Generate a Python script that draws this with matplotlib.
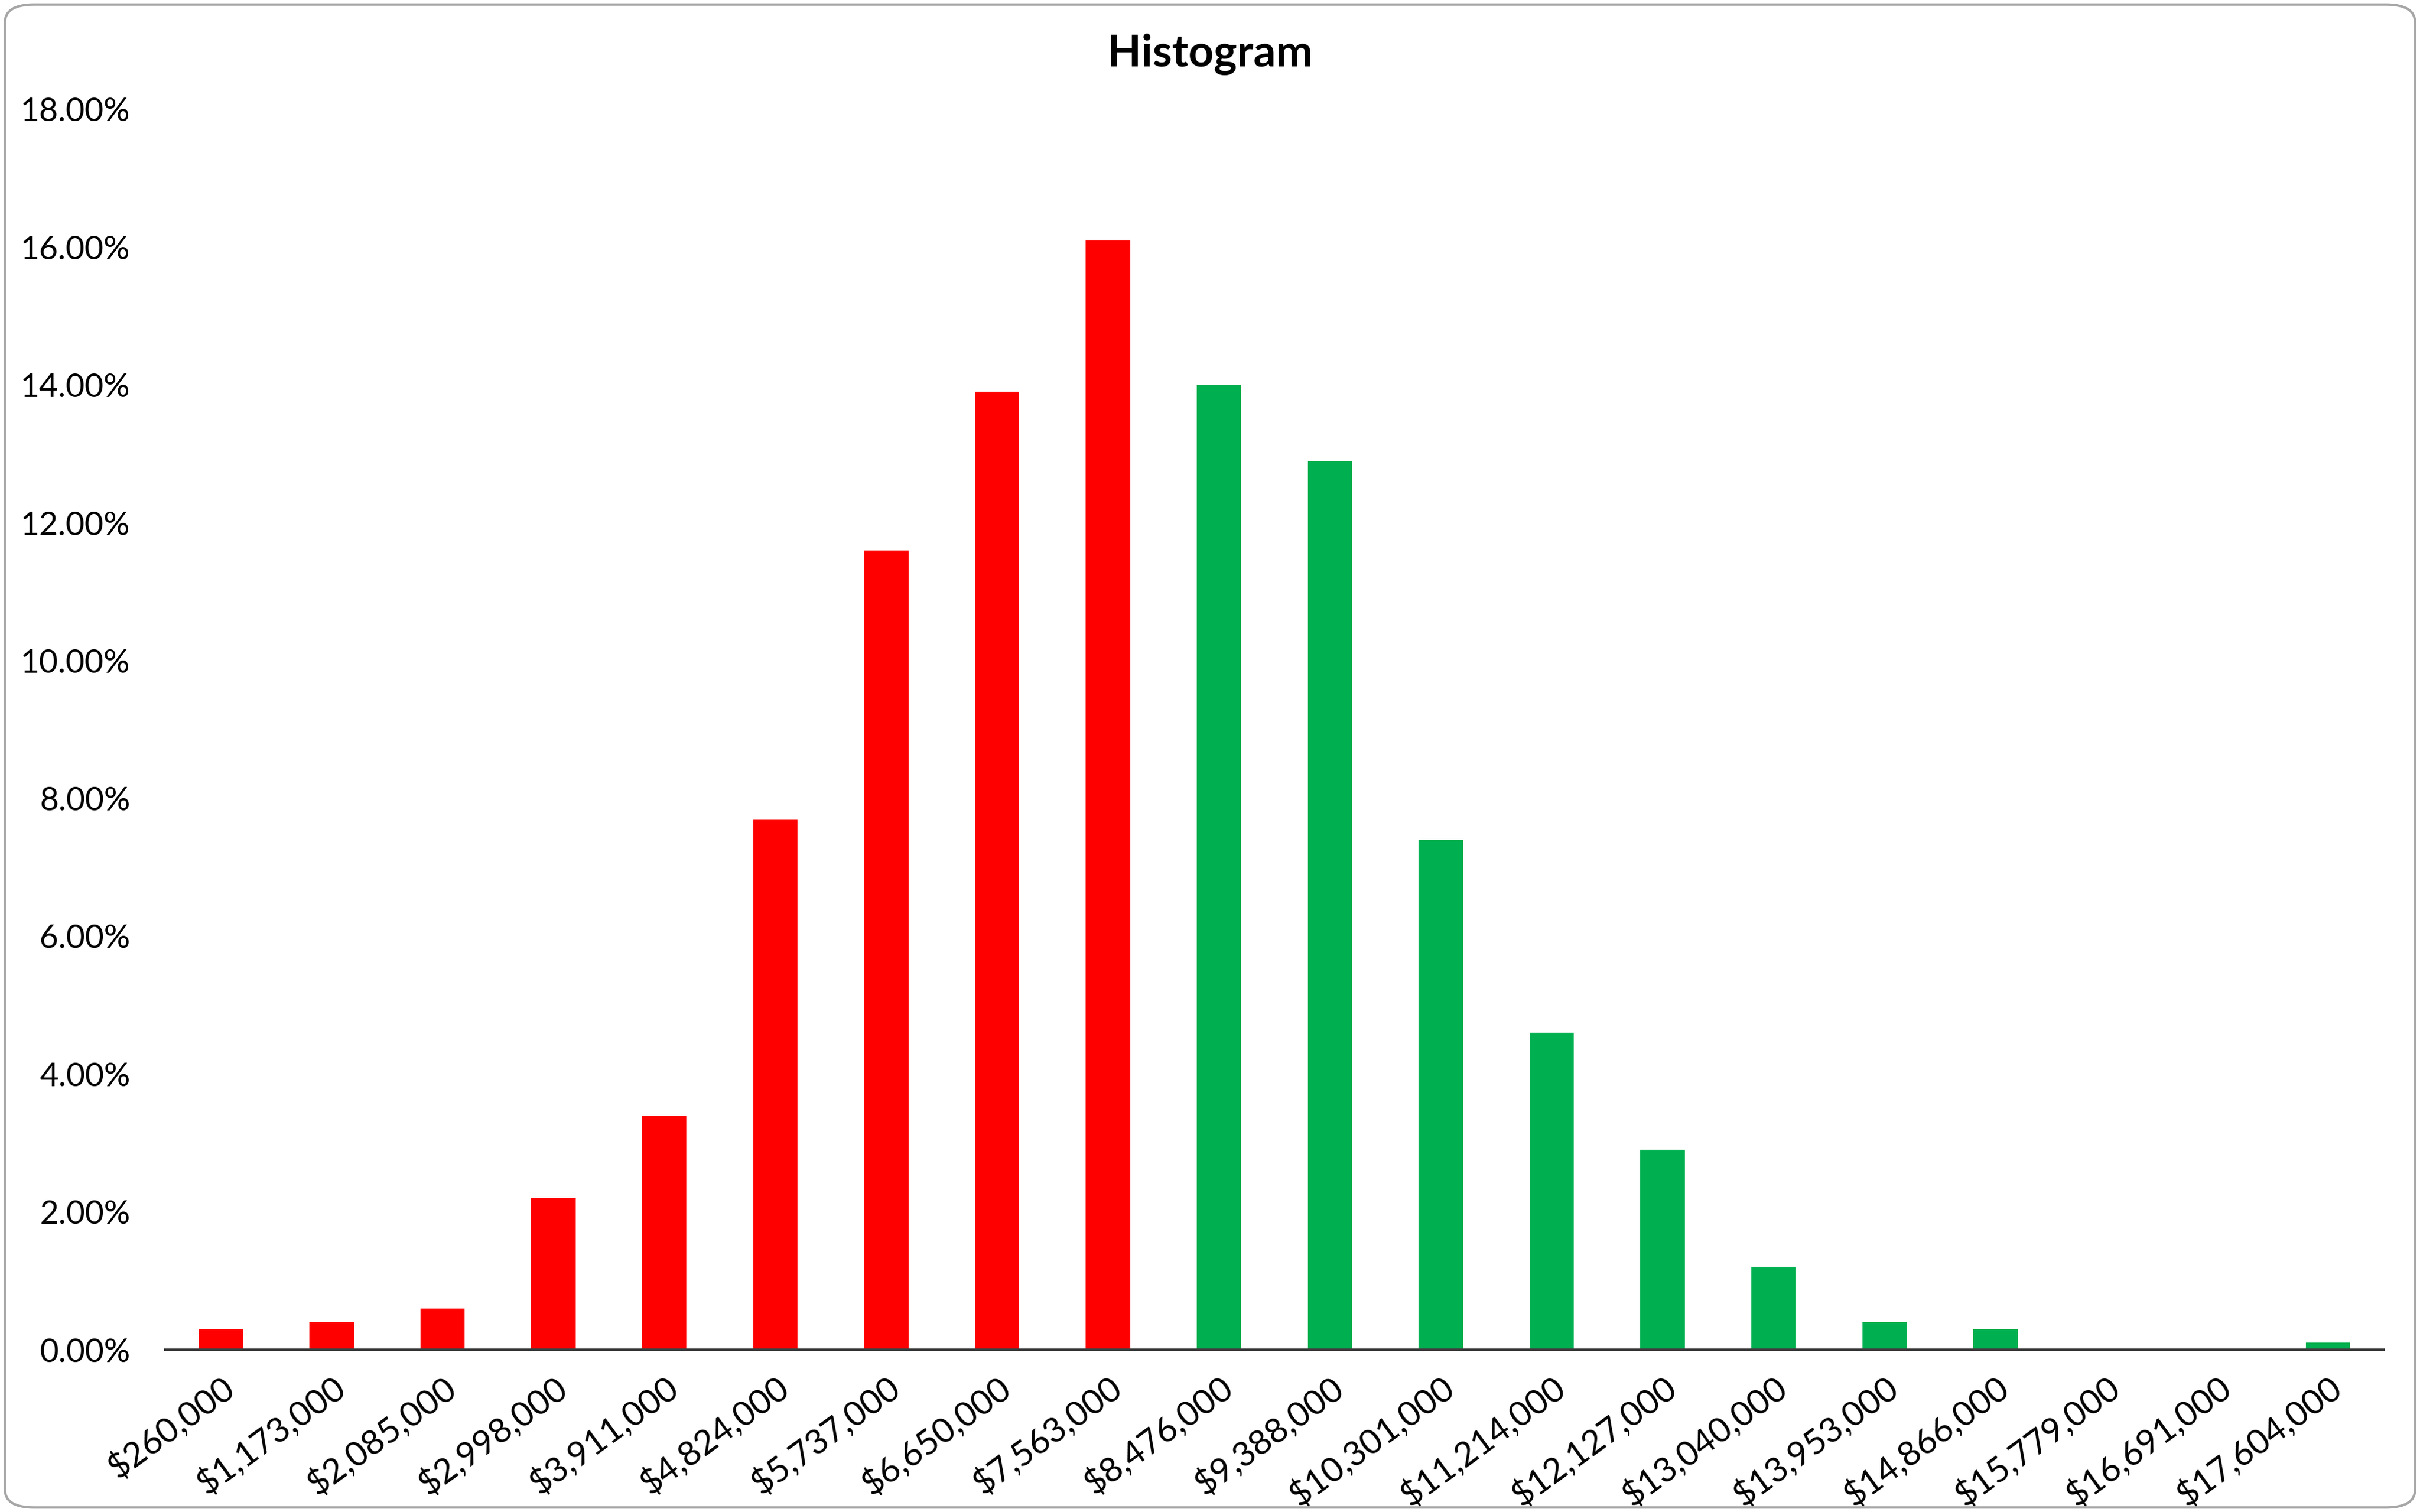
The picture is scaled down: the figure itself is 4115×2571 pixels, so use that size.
import matplotlib
matplotlib.use("Agg")
import matplotlib.pyplot as plt
from matplotlib.patches import FancyBboxPatch
from matplotlib.ticker import FuncFormatter

bins = ["$260,000", "$1,173,000", "$2,085,000", "$2,998,000", "$3,911,000",
        "$4,824,000", "$5,737,000", "$6,650,000", "$7,563,000", "$8,476,000",
        "$9,388,000", "$10,301,000", "$11,214,000", "$12,127,000", "$13,040,000",
        "$13,953,000", "$14,866,000", "$15,779,000", "$16,691,000", "$17,604,000"]
pct = [0.3, 0.4, 0.6, 2.2, 3.4, 7.7, 11.6, 13.9, 16.1, 14.0,
       12.9, 7.4, 4.6, 2.9, 1.2, 0.4, 0.3, 0.0, 0.0, 0.1]
n_red = 9   # first nine bins in red, rest green

plt.rcParams['font.family'] = ['Lato', 'DejaVu Sans']

fig = plt.figure(figsize=(41.15, 25.71), dpi=100)
ax = fig.add_axes([281/4115, 1 - 2295/2571, (4053-281)/4115, (2295-186)/2571])

colors = ['#FF0000' if i < n_red else '#00B050' for i in range(len(pct))]
ax.bar(range(len(pct)), pct, width=0.4, color=colors)

ax.set_xlim(-0.5, len(pct) - 0.5)
ax.set_ylim(0, 18)
ax.set_yticks(range(0, 19, 2))
ax.yaxis.set_major_formatter(FuncFormatter(lambda v, p: f"{v:.2f}%"))
ax.set_xticks(range(len(pct)))
ax.set_xticklabels(bins, rotation=36, ha='right', rotation_mode='anchor')
ax.tick_params(axis='both', length=0)
ax.tick_params(axis='x', pad=26, labelsize=42)
ax.tick_params(axis='y', pad=43, labelsize=40)

for s in ['top', 'right', 'left']:
    ax.spines[s].set_visible(False)
ax.spines['bottom'].set_color('#404040')
ax.spines['bottom'].set_linewidth(3)

fig.text(0.5, 1 - 92/2571, "Histogram", ha='center', va='center',
         fontsize=54, fontweight='bold')

border = FancyBboxPatch((0.002, 0.003), 0.996, 0.994,
                        boxstyle="round,pad=0,rounding_size=0.012",
                        transform=fig.transFigure, fill=False,
                        edgecolor='#A6A6A6', linewidth=3)
fig.patches.append(border)

fig.savefig("out.png", dpi=100)
